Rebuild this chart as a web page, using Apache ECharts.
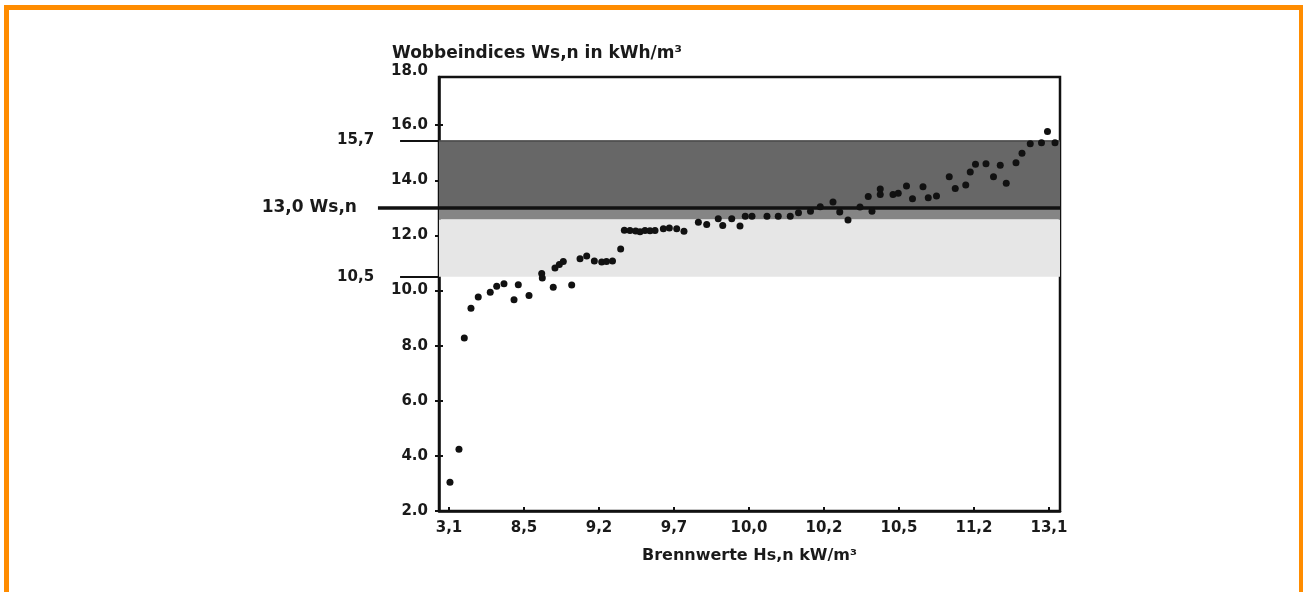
<!DOCTYPE html>
<html><head><meta charset="utf-8">
<script src="https://cdn.jsdelivr.net/npm/echarts@6/dist/echarts.min.js"></script>
<style>
html,body{margin:0;padding:0;background:#fff;overflow:hidden;width:1303px;height:592px}
#frame{position:absolute;left:4px;top:5px;width:1290px;height:700px;border:5px solid #ff8c00;border-bottom:none}
#chart{position:absolute;left:0;top:0;width:1303px;height:592px}
</style></head><body>
<div id="frame"></div><div id="chart"></div>
<script>
// Category labels of the Brennwert axis (one per tick)
const xLabels = ['3,1','8,5','9,2','9,7','10,0','10,2','10,5','11,2','13,1'];
// Y tick labels
const yTickValues = [2,4,6,8,10,12,14,16];
const yTickLabels = ['2.0','4.0','6.0','8.0','10.0','12.0','14.0','16.0','18.0'];
// Point positions along the Brennwert axis (in tick units) and Wobbe index values
const xPos = [0.013,0.133,0.204,0.293,0.39,0.55,0.636,0.733,0.867,0.924,1.067,1.236,1.244,1.39,1.413,1.471,1.524,1.636,1.747,1.836,
  1.938,2.036,2.10,2.18,2.289,2.338,2.413,2.489,2.547,2.613,2.68,2.747,2.858,2.938,3.036,3.133,3.325,3.436,3.59,3.65,
  3.77,3.88,3.95,4.04,4.24,4.39,4.55,4.66,4.82,4.95,5.12,5.21,5.32,5.48,5.59,5.64,5.75,5.75,5.92,5.99,
  6.10,6.18,6.32,6.39,6.50,6.67,6.75,6.89,6.95,7.02,7.16,7.26,7.35,7.43,7.56,7.64,7.75,7.90,7.98,8.08];
const yVal = [3.04,4.24,8.28,9.36,9.77,9.94,10.16,10.25,9.67,10.21,9.82,10.62,10.46,10.12,10.82,10.95,11.05,10.2,11.15,11.25,
  11.07,11.04,11.05,11.07,11.51,12.19,12.18,12.16,12.13,12.18,12.17,12.18,12.24,12.27,12.24,12.15,12.48,12.40,12.61,12.36,
  12.61,12.34,12.70,12.70,12.70,12.70,12.70,12.82,12.88,13.04,13.21,12.85,12.56,13.03,13.41,12.88,13.69,13.49,13.49,13.53,
  13.79,13.33,13.77,13.37,13.43,14.13,13.70,13.83,14.30,14.58,14.60,14.13,14.55,13.89,14.64,14.98,15.33,15.36,15.77,15.36];
// Reference levels (as drawn) and their labels
const refLabels = ['15,7','13,0 Ws,n','10,5'];
const refLevels = [15.45, 13.0, 10.5];
const midBandLow = 12.58;
const titleText = 'Wobbeindices Ws,n in kWh/m³';
const xName = 'Brennwerte Hs,n kW/m³';

const FONT = 'DejaVu Sans';
const TXT = '#1a1a1a';
const Y_MIN = 2, Y_MAX = 17.75;
const X_MIN = -0.1333, X_MAX = 8.1467;
const xTickVals = xLabels.map((_, i) => i);

const chart = echarts.init(document.getElementById('chart'), null, {renderer: 'canvas'});
chart.setOption({
  animation: false,
  title: [
    {text: titleText, left: 392, top: 45, padding: 0,
     textStyle: {fontFamily: FONT, fontWeight: 'bold', fontSize: 17, color: TXT}},
    {text: yTickLabels[yTickLabels.length - 1], left: 391, top: 64, padding: 0,
     textStyle: {fontFamily: FONT, fontWeight: 'bold', fontSize: 15, color: TXT}}
  ],
  grid: [
    {left: 439, top: 77, right: 243, bottom: 81, show: true, borderColor: '#111', borderWidth: 2.5, backgroundColor: 'transparent'},
    {left: 250, top: 77, width: 189, bottom: 81, show: false}
  ],
  xAxis: [
    {type: 'value', gridIndex: 0, min: X_MIN, max: X_MAX, position: 'bottom',
     axisLine: {show: true, onZero: false, lineStyle: {color: '#111', width: 2.5}},
     axisTick: {show: true, inside: true, length: 4, customValues: xTickVals, lineStyle: {color: '#111', width: 2}},
     axisLabel: {show: true, customValues: xTickVals, margin: 10, formatter: v => xLabels[Math.round(v)],
       fontFamily: FONT, fontWeight: 'bold', fontSize: 15, color: TXT},
     splitLine: {show: false},
     name: xName, nameLocation: 'middle', nameGap: 37,
     nameTextStyle: {fontFamily: FONT, fontWeight: 'bold', fontSize: 16, color: TXT}},
    {type: 'value', gridIndex: 1, min: 0, max: 1, show: false}
  ],
  yAxis: [
    {type: 'value', gridIndex: 0, min: Y_MIN, max: Y_MAX, position: 'left',
     axisLine: {show: true, onZero: false, lineStyle: {color: '#111', width: 2.5}},
     axisTick: {show: true, inside: false, length: 4, customValues: yTickValues, lineStyle: {color: '#111', width: 2}},
     axisLabel: {show: true, customValues: yTickValues, margin: 11,
       formatter: v => yTickLabels[Math.round((v - 2) / 2)],
       fontFamily: FONT, fontWeight: 'bold', fontSize: 15, color: TXT},
     splitLine: {show: false}},
    {type: 'value', gridIndex: 0, min: Y_MIN, max: Y_MAX, position: 'left',
     axisLine: {show: false, onZero: false},
     axisTick: {show: true, inside: true, length: 4, customValues: yTickValues, lineStyle: {color: '#111', width: 2}},
     axisLabel: {show: false}, splitLine: {show: false}},
    {type: 'value', gridIndex: 1, min: Y_MIN, max: Y_MAX, show: false}
  ],
  series: [
    {type: 'line', xAxisIndex: 0, yAxisIndex: 0, data: [], z: 1, silent: true,
     markArea: {silent: true, label: {show: false},
       data: [
         [{yAxis: refLevels[1], itemStyle: {color: '#676767'}}, {yAxis: refLevels[0]}],
         [{yAxis: midBandLow, itemStyle: {color: '#858585'}}, {yAxis: refLevels[1]}],
         [{yAxis: refLevels[2], itemStyle: {color: '#e6e6e6'}}, {yAxis: midBandLow}]
       ]}},
    {type: 'line', xAxisIndex: 0, yAxisIndex: 0, data: [], z: 2, silent: true,
     markLine: {silent: true, symbol: 'none', label: {show: false},
       data: [
         {yAxis: refLevels[1], lineStyle: {color: '#111', width: 3.5, type: 'solid'}},
         {yAxis: refLevels[0], lineStyle: {color: '#4a4a4a', width: 1.5, type: 'solid'}}
       ]}},
    {type: 'line', xAxisIndex: 1, yAxisIndex: 2, data: [], z: 2, silent: true,
     markLine: {silent: true, symbol: 'none',
       data: [
         [{coord: [0.794, refLevels[0]], lineStyle: {color: '#111', width: 2, type: 'solid'},
           label: {show: true, position: 'start', distance: 26, formatter: refLabels[0],
             fontFamily: FONT, fontWeight: 'bold', fontSize: 15, color: TXT}},
          {coord: [1, refLevels[0]]}],
         [{coord: [0.677, refLevels[1]], lineStyle: {color: '#111', width: 3.5, type: 'solid'},
           label: {show: true, position: 'start', distance: 21, formatter: refLabels[1],
             fontFamily: FONT, fontWeight: 'bold', fontSize: 17, color: TXT}},
          {coord: [1, refLevels[1]]}],
         [{coord: [0.794, refLevels[2]], lineStyle: {color: '#111', width: 2, type: 'solid'},
           label: {show: true, position: 'start', distance: 26, formatter: refLabels[2],
             fontFamily: FONT, fontWeight: 'bold', fontSize: 15, color: TXT}},
          {coord: [1, refLevels[2]]}]
       ]}},
    {type: 'scatter', xAxisIndex: 0, yAxisIndex: 0, z: 5,
     symbol: 'circle', symbolSize: 7, itemStyle: {color: '#111', opacity: 1},
     data: xPos.map((x, i) => [x, yVal[i]])}
  ]
});
</script>
</body></html>
